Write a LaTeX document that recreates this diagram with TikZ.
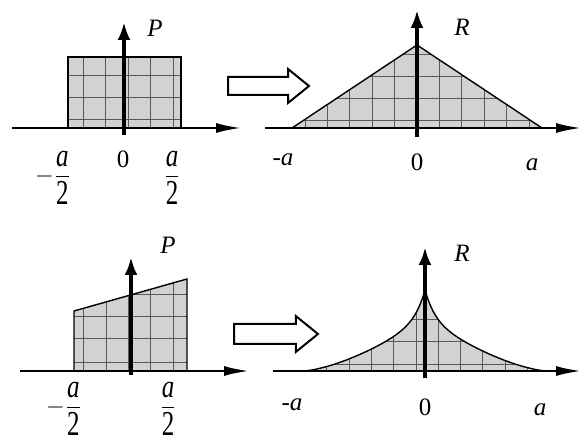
\documentclass[tikz,border=0pt]{standalone}
\usepackage{amsmath}
\usepackage{graphicx}
\usepackage{fontspec}
\setmainfont{Liberation Serif}
\usetikzlibrary{arrows.meta,shapes.arrows}

\newcommand{\halfa}{\genfrac{}{}{0.7pt}{0}{\scalebox{1}[1.3]{\textit{a}}}{\scalebox{1}[1.4]{2}}}

\tikzset{
  haxis/.style={line width=1.4pt,-{Latex[length=13pt,width=5pt]}},
  vaxis/.style={line width=2.2pt,-{Latex[length=9pt,width=6.5pt]}},
  areafill/.style={fill=gray!35},
  areaedge/.style={draw=black,line width=0.7pt},
  gridline/.style={black!65,line width=0.5pt},
  lbl/.style={inner sep=0pt,font=\fontsize{12.5}{15}\selectfont},
  hollow/.style={single arrow,draw,line width=1pt,fill=white,inner xsep=0pt,
    inner ysep=4pt,single arrow head extend=4pt,single arrow tip angle=78,
    minimum height=40.5pt}
}

\begin{document}
\begin{tikzpicture}[x=0.5pt,y=0.5pt]
  \useasboundingbox (0,0) rectangle (583,444);
  % P, top left
  \begin{scope}[shift={(124,316)}]
    \fill[areafill] (-56,0) rectangle (57,71);
    \begin{scope}
      \clip (-56,0) rectangle (57,71);
      \foreach \x in {-41,-19,4,26,49} \draw[gridline] (\x,0) -- (\x,71);
      \foreach \y in {8.5,30,52} \draw[gridline] (-56,\y) -- (57,\y);
    \end{scope}
    \draw[areaedge] (-56,0) rectangle (57,71);
    \coordinate (xl1) at (-112,0);
    \coordinate (xr1) at (118,0);
    \coordinate (yb1) at (0,-7);
    \coordinate (yt1) at (0,106);
    \draw[haxis] (xl1) -- (xr1);
    \draw[vaxis] (yb1) -- (yt1);
    \node[lbl] (p1) at (31,100) {\textit{P}};
    \node[lbl] (zero1) at (-1,-31) {0};
    \node[lbl] (lo1) at (-71,-50) {$-\halfa$};
    \node[lbl] (hi1) at (48,-50) {$\halfa$};
  \end{scope}
  % R, top right
  \begin{scope}[shift={(417,316)}]
    \fill[areafill] (-125,0) -- (0,83) -- (125,0) -- cycle;
    \begin{scope}
      \clip (-125,0) -- (0,83) -- (125,0) -- cycle;
      \foreach \i in {-5,...,5} \draw[gridline] (\i*22.4,0) -- (\i*22.4,83);
      \foreach \y in {7,29.5,51,73} \draw[gridline] (-125,\y) -- (125,\y);
    \end{scope}
    \draw[areaedge] (-125,0) -- (0,83) -- (125,0);
    \coordinate (xl2) at (-152,0);
    \coordinate (xr2) at (165,0);
    \coordinate (yb2) at (0,-9);
    \coordinate (yt2) at (0,118);
    \draw[haxis] (xl2) -- (xr2);
    \draw[vaxis] (yb2) -- (yt2);
    \node[lbl] (r2) at (45,101) {\textit{R}};
    \node[lbl] (zero2) at (0,-34) {0};
    \node[lbl] (lo2) at (-134,-32) {-\textit{a}};
    \node[lbl] (hi2) at (115,-37) {\textit{a}};
  \end{scope}
  % P, bottom left
  \begin{scope}[shift={(131,73)}]
    \fill[areafill] (-57,0) -- (-57,60) -- (56,92) -- (56,0) -- cycle;
    \begin{scope}
      \clip (-57,0) -- (-57,60) -- (56,92) -- (56,0) -- cycle;
      \foreach \x in {-48,-25,-3,19,42} \draw[gridline] (\x,0) -- (\x,92);
      \foreach \y in {8,32,54,76} \draw[gridline] (-57,\y) -- (56,\y);
    \end{scope}
    \draw[areaedge] (-57,0) -- (-57,60) -- (56,92) -- (56,0);
    \coordinate (xl3) at (-111,0);
    \coordinate (xr3) at (119,0);
    \coordinate (yb3) at (0,-4);
    \coordinate (yt3) at (0,114);
    \draw[haxis] (xl3) -- (xr3);
    \draw[vaxis] (yb3) -- (yt3);
    \node[lbl] (p3) at (37,126) {\textit{P}};
    \node[lbl] (lo3) at (-67,-38) {$-\halfa$};
    \node[lbl] (hi3) at (37,-38) {$\halfa$};
  \end{scope}
  % R, bottom right
  \begin{scope}[shift={(425,73)}]
    \fill[areafill] plot[domain=-122:122,samples=121]
      (\x,{29*exp(-abs(\x)/10)+52*pow(1.0001-abs(\x)/122,1.5)}) -- cycle;
    \begin{scope}
      \clip plot[domain=-122:122,samples=121]
        (\x,{29*exp(-abs(\x)/10)+52*pow(1.0001-abs(\x)/122,1.5)}) -- cycle;
      \foreach \i in {-4,...,5} \draw[gridline] (\i*22.3-9,0) -- (\i*22.3-9,81);
      \foreach \y in {6.5,29,51,73} \draw[gridline] (-122,\y) -- (122,\y);
    \end{scope}
    \draw[areaedge] plot[domain=-122:122,samples=121]
      (\x,{29*exp(-abs(\x)/10)+52*pow(1.0001-abs(\x)/122,1.5)});
    \coordinate (xl4) at (-152,0);
    \coordinate (xr4) at (157,0);
    \coordinate (yb4) at (0,-7);
    \coordinate (yt4) at (0,124);
    \draw[haxis] (xl4) -- (xr4);
    \draw[vaxis] (yb4) -- (yt4);
    \node[lbl] (r4) at (37,118) {\textit{R}};
    \node[lbl] (zero4) at (0,-36) {0};
    \node[lbl] (lo4) at (-133,-34) {-\textit{a}};
    \node[lbl] (hi4) at (115,-39) {\textit{a}};
  \end{scope}
  % transform arrows
  \node[hollow,anchor=tail] (conv1) at (227,358) {};
  \node[hollow,anchor=tail,minimum height=42pt,inner ysep=4.5pt] (conv2) at (233,110) {};
\end{tikzpicture}
\end{document}
